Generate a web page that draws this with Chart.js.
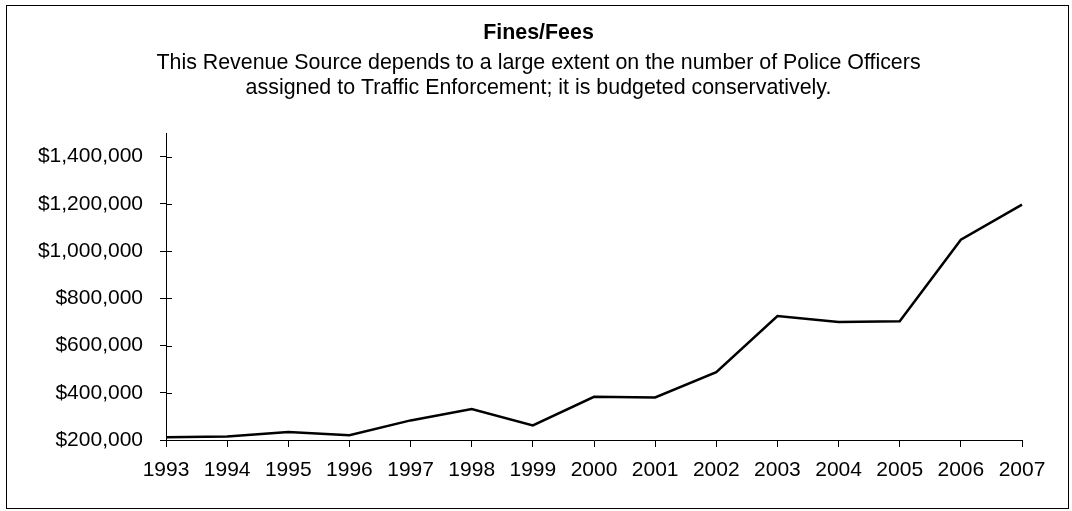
<!DOCTYPE html>
<html>
<head>
<meta charset="utf-8">
<script src="https://cdn.jsdelivr.net/npm/chart.js@4.4.0/dist/chart.umd.min.js"></script>
<style>
  html, body { margin: 0; padding: 0; background: #fff; }
  .frame {
    position: absolute; left: 6px; top: 5px;
    width: 1063px; height: 504px;
    box-sizing: border-box; border: 1px solid #000;
  }
  .frame canvas { display: block; }
</style>
</head>
<body>
<div class="frame"><canvas id="finesChart" width="1061" height="502"></canvas></div>
<script>
/* ========== Data ========== */
const years = ['1993', '1994', '1995', '1996', '1997', '1998', '1999', '2000',
               '2001', '2002', '2003', '2004', '2005', '2006', '2007'];
const revenue = [212000, 215000, 234000, 220000, 283000, 331000, 262000, 383000,
                 380000, 487000, 725000, 700000, 703000, 1048000, 1197000];
const yTicks = [200000, 400000, 600000, 800000, 1000000, 1200000, 1400000];

const titleText = 'Fines/Fees';
const subtitleLines = [
  'This Revenue Source depends to a large extent on the number of Police Officers',
  'assigned to Traffic Enforcement; it is budgeted conservatively.'
];

const FONT = '"Liberation Sans", Arial, sans-serif';

/* title block centred on the whole frame (Chart.js title would centre on the padded area) */
const titleBlock = {
  id: 'titleBlock',
  afterDraw(chart) {
    const { ctx } = chart;
    const cx = chart.width / 2 + 1;
    ctx.save();
    ctx.fillStyle = '#000';
    ctx.textAlign = 'center';
    ctx.textBaseline = 'middle';
    ctx.font = 'bold 21.4px ' + FONT;
    ctx.fillText(titleText, cx, 27);
    ctx.font = '21.4px ' + FONT;
    subtitleLines.forEach((line, i) => ctx.fillText(line, cx, 57 + i * 25));
    ctx.restore();
  }
};

/* y ticks cross the axis in the original, draw the inner half */
const innerTicks = {
  id: 'innerTicks',
  afterDraw(chart) {
    const { ctx, scales: { y } } = chart;
    ctx.save();
    ctx.strokeStyle = '#000';
    ctx.lineWidth = 1;
    y.ticks.forEach(t => {
      const py = Math.round(y.getPixelForValue(t.value)) + 0.5;
      ctx.beginPath();
      ctx.moveTo(y.right, py);
      ctx.lineTo(y.right + 6, py);
      ctx.stroke();
    });
    ctx.restore();
  }
};

new Chart(document.getElementById('finesChart'), {
  type: 'line',
  data: {
    labels: years,
    datasets: [{
      data: revenue,
      borderColor: '#000',
      borderWidth: 2.5,
      pointRadius: 0,
      tension: 0,
      fill: false
    }]
  },
  options: {
    responsive: false,
    animation: false,
    layout: { padding: { top: 127, left: 9, right: 46, bottom: 26 } },
    plugins: {
      legend: { display: false },
      tooltip: { enabled: false },
      title: { display: false }
    },
    scales: {
      x: {
        offset: false,
        border: { display: true, color: '#000', width: 1 },
        grid: { display: true, drawOnChartArea: false, color: '#000', tickLength: 7 },
        ticks: {
          color: '#000', font: { family: FONT, size: 21 },
          maxRotation: 0, autoSkip: false, padding: 11
        },
        afterFit(scale) { scale.height = 42; }
      },
      y: {
        min: 200000,
        max: 1500000,
        border: { display: true, color: '#000', width: 1 },
        grid: { display: true, drawOnChartArea: false, color: '#000', tickLength: 6 },
        afterBuildTicks(scale) { scale.ticks = yTicks.map(v => ({ value: v })); },
        ticks: {
          color: '#000', font: { family: FONT, size: 21 }, padding: 17,
          callback: v => '$' + v.toLocaleString('en-US')
        },
        afterFit(scale) { scale.width = 150; }
      }
    }
  },
  plugins: [innerTicks, titleBlock]
});
</script>
</body>
</html>
